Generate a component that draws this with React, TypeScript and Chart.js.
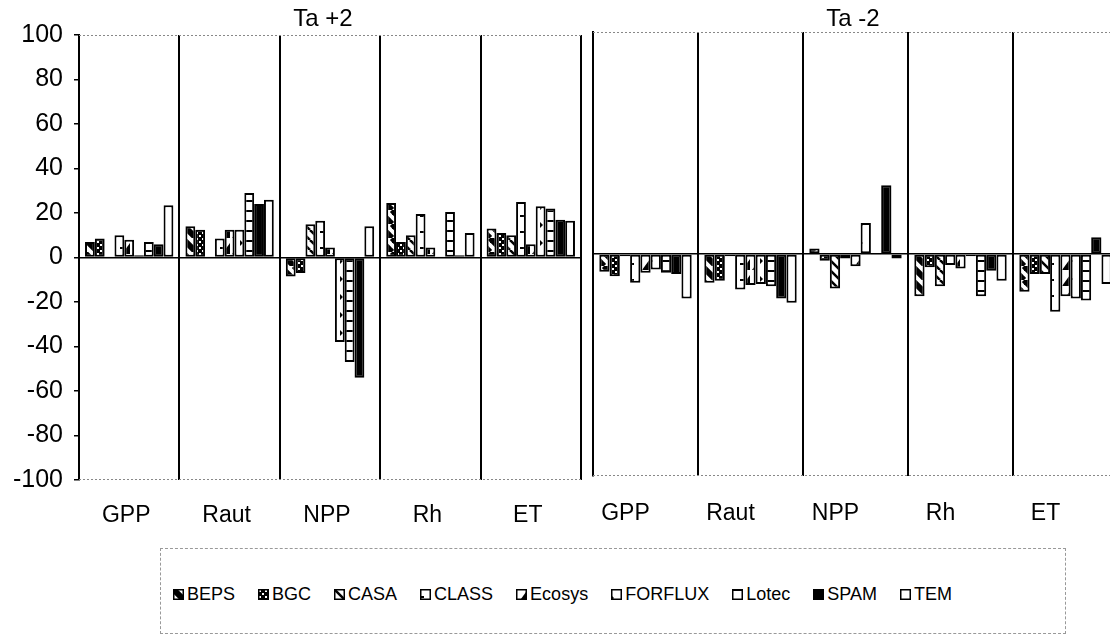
import React, { useEffect, useRef } from 'react';
import { Chart, registerables } from 'chart.js';

Chart.register(...registerables);

const categories = ['GPP', 'Raut', 'NPP', 'Rh', 'ET'];
const models = ['BEPS', 'BGC', 'CASA', 'CLASS', 'Ecosys', 'FORFLUX', 'Lotec', 'SPAM', 'TEM'];
const yTicks = [-100, -80, -60, -40, -20, 0, 20, 40, 60, 80, 100];
const panelTitles = ['Ta +2', 'Ta -2'];

// Ta +2 (% change), order: GPP, Raut, NPP, Rh, ET
const plusBEPS = [7, 14, -8.5, 24.5, 13];
const plusBGC = [8.5, 12.5, -7, 7, 11];
const plusCASA = [0.5, 0.5, 15, 10, 10];
const plusCLASS = [10, 8.5, 16.5, 19.5, 25];
const plusEcosys = [8, 12.5, 4.5, 4.5, 6];
const plusFORFLUX = [1, 12.5, -38, 0.5, 23];
const plusLotec = [7, 29, -47, 20.5, 22];
const plusSPAM = [6, 24, -54, 1, 17];
const plusTEM = [23.5, 26, 14, 11, 16.5];

// Ta -2 (% change)
const minusBEPS = [-8, -13, 2.5, -19, -17];
const minusBGC = [-10, -12, -3, -6, -9];
const minusCASA = [-1, -1, -15.5, -14.5, -9];
const minusCLASS = [-13, -16, -2, -5, -26];
const minusEcosys = [-8.5, -14, -5.5, -6.5, -19];
const minusFORFLUX = [-7, -13.5, 14, -1, -20];
const minusLotec = [-8.5, -14.5, -0.5, -19, -21];
const minusSPAM = [-9, -20, 31, -7.5, 7.5];
const minusTEM = [-20, -22, -2, -12, -13.5];

const plusSeries = [plusBEPS, plusBGC, plusCASA, plusCLASS, plusEcosys, plusFORFLUX, plusLotec, plusSPAM, plusTEM];
const minusSeries = [minusBEPS, minusBGC, minusCASA, minusCLASS, minusEcosys, minusFORFLUX, minusLotec, minusSPAM, minusTEM];

const FONT = '"Liberation Sans", Arial, sans-serif';

function makeFill(ctx: CanvasRenderingContext2D, idx: number): any {
  const tile = (w: number, h: number, draw: (c: CanvasRenderingContext2D) => void) => {
    const cv = document.createElement('canvas');
    cv.width = w;
    cv.height = h;
    const c = cv.getContext('2d')!;
    c.fillStyle = '#fff';
    c.fillRect(0, 0, w, h);
    c.fillStyle = '#000';
    c.strokeStyle = '#000';
    draw(c);
    return ctx.createPattern(cv, 'repeat');
  };
  switch (idx) {
    case 0: // BEPS: thick diagonal
      return tile(14, 14, (c) => {
        c.lineWidth = 6;
        for (let x = -14; x <= 14; x += 14) {
          c.beginPath();
          c.moveTo(x, 0);
          c.lineTo(x + 14, 14);
          c.stroke();
        }
      });
    case 1: // BGC: checker dots
      return tile(6, 6, (c) => {
        c.fillRect(0, 0, 6, 6);
        c.fillStyle = '#fff';
        c.fillRect(1, 1, 2, 2);
        c.fillRect(4, 4, 2, 2);
      });
    case 2: // CASA: diagonal stripes
      return tile(10, 10, (c) => {
        c.lineWidth = 2.5;
        for (let x = -10; x <= 10; x += 10) {
          c.beginPath();
          c.moveTo(x, 0);
          c.lineTo(x + 10, 10);
          c.stroke();
        }
      });
    case 3: // CLASS: small dashes
      return tile(10, 16, (c) => {
        c.fillRect(0, 7, 4, 2);
      });
    case 4: // Ecosys: black triangles
      return tile(10, 16, (c) => {
        c.beginPath();
        c.moveTo(10, 3);
        c.lineTo(10, 14);
        c.lineTo(2, 14);
        c.closePath();
        c.fill();
      });
    case 5: // FORFLUX: diamond markers
      return tile(10, 18, (c) => {
        c.beginPath();
        c.moveTo(0, 6);
        c.lineTo(3, 9);
        c.lineTo(0, 12);
        c.closePath();
        c.fill();
      });
    case 6: // Lotec: horizontal lines
      return tile(10, 10, (c) => {
        c.fillRect(0, 0, 10, 2);
      });
    case 7:
      return '#000';
    default:
      return '#fff';
  }
}

const frameLines = {
  id: 'frameLines',
  afterDatasetsDraw(chart: any) {
    const { ctx, chartArea } = chart;
    ctx.save();
    ctx.strokeStyle = '#888';
    ctx.lineWidth = 1;
    ctx.setLineDash([2, 2]);
    ctx.beginPath();
    ctx.moveTo(chartArea.left, chartArea.top + 0.5);
    ctx.lineTo(chartArea.right, chartArea.top + 0.5);
    ctx.moveTo(chartArea.left, chartArea.bottom - 0.5);
    ctx.lineTo(chartArea.right, chartArea.bottom - 0.5);
    ctx.stroke();
    ctx.restore();
  },
};

function buildChart(canvas: HTMLCanvasElement, series: number[][], opts: any) {
  const ctx = canvas.getContext('2d')!;
  const datasets = models.map((m, i) => ({
    label: m,
    data: series[i],
    backgroundColor: makeFill(ctx, i),
    borderColor: '#000',
    borderWidth: 2,
    borderSkipped: false,
    categoryPercentage: 0.88,
    barPercentage: 1.0,
  }));
  return new Chart(ctx, {
    type: 'bar',
    data: { labels: categories, datasets },
    plugins: [frameLines],
    options: {
      responsive: false,
      animation: false,
      layout: { padding: opts.padding },
      plugins: { legend: { display: false }, tooltip: { enabled: false }, title: { display: false } },
      scales: {
        x: {
          grid: { color: '#000', lineWidth: 2, offset: true, drawTicks: false },
          border: { display: false },
          ticks: {
            color: '#000',
            font: { family: FONT, size: 23 },
            padding: opts.xPad,
            labelOffset: opts.labelOffset,
            maxRotation: 0,
            autoSkip: false,
          },
          afterFit: (s: any) => {
            s.height = opts.xHeight;
          },
        },
        y: {
          min: -100,
          max: 100,
          afterBuildTicks: (s: any) => {
            s.ticks = yTicks.map((v) => ({ value: v }));
          },
          grid: {
            color: (c: any) => (c.tick && c.tick.value === 0 ? '#000' : 'rgba(0,0,0,0)'),
            tickColor: '#000',
            lineWidth: 1.5,
            drawTicks: opts.showYTicks,
            tickLength: 5,
          },
          border: { display: true, color: '#000', width: 2 },
          ticks: {
            display: opts.showYTicks,
            color: '#000',
            font: { family: FONT, size: 25 },
            padding: 11,
          },
          afterFit: (s: any) => {
            s.width = opts.yWidth;
          },
        },
      },
    },
  });
}

function Swatch({ idx }: { idx: number }) {
  const ref = useRef<HTMLCanvasElement>(null);
  useEffect(() => {
    const cv = ref.current!;
    const ctx = cv.getContext('2d')!;
    ctx.fillStyle = makeFill(ctx, idx);
    ctx.fillRect(0, 0, 11, 11);
    ctx.strokeStyle = '#000';
    ctx.lineWidth = 1.5;
    ctx.strokeRect(0.75, 0.75, 9.5, 9.5);
  }, [idx]);
  return <canvas ref={ref} width={11} height={11} style={{ display: 'block', marginRight: 3 }} />;
}

export default function App() {
  const leftRef = useRef<HTMLCanvasElement>(null);
  const rightRef = useRef<HTMLCanvasElement>(null);

  useEffect(() => {
    const a = buildChart(leftRef.current!, plusSeries, {
      padding: { top: 35, left: 0, right: 9, bottom: 0 },
      xHeight: 65,
      xPad: 22,
      labelOffset: -3,
      yWidth: 79,
      showYTicks: true,
    });
    const b = buildChart(rightRef.current!, minusSeries, {
      padding: { top: 32, left: 0, right: 2, bottom: 0 },
      xHeight: 69,
      xPad: 24,
      labelOffset: -20,
      yWidth: 3,
      showYTicks: false,
    });
    return () => {
      a.destroy();
      b.destroy();
    };
  }, []);

  return (
    <div
      style={{
        position: 'absolute',
        left: 0,
        top: 0,
        width: 1110,
        height: 636,
        overflow: 'hidden',
        background: '#fff',
        fontFamily: FONT,
      }}
    >
      <canvas ref={leftRef} width={590} height={545} style={{ position: 'absolute', left: 0, top: 0 }} />
      <canvas ref={rightRef} width={530} height={545} style={{ position: 'absolute', left: 590, top: 0 }} />
      <div style={{ position: 'absolute', left: 223, top: 6, width: 200, textAlign: 'center', fontSize: 24, lineHeight: '24px' }}>
        {panelTitles[0]}
      </div>
      <div style={{ position: 'absolute', left: 753, top: 6, width: 200, textAlign: 'center', fontSize: 24, lineHeight: '24px' }}>
        {panelTitles[1]}
      </div>
      <div
        style={{
          position: 'absolute',
          left: 160,
          top: 548,
          width: 906,
          height: 86,
          border: '1px dashed #999',
          boxSizing: 'border-box',
          display: 'flex',
          alignItems: 'center',
          paddingLeft: 12,
          paddingTop: 6,
          gap: 23,
        }}
      >
        {models.map((m, i) => (
          <div key={m} style={{ display: 'flex', alignItems: 'center', fontSize: 18 }}>
            <Swatch idx={i} />
            <span>{m}</span>
          </div>
        ))}
      </div>
    </div>
  );
}
